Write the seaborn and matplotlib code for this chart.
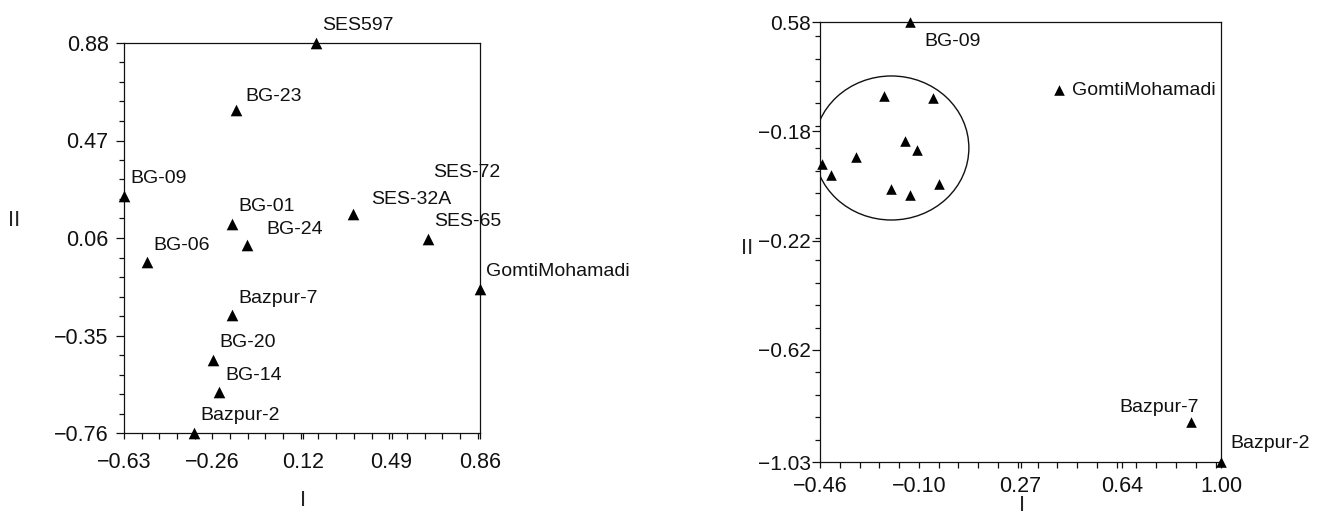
import numpy as np
import pandas as pd
import matplotlib.pyplot as plt
import matplotlib
from matplotlib.patches import Ellipse
from matplotlib.ticker import AutoMinorLocator
import seaborn as sns

# ---- left plot : all accessions
left_names = ["SES597", "BG-23", "BG-09", "BG-01", "BG-24", "SES-32A", "SES-65",
              "BG-06", "GomtiMohamadi", "Bazpur-7", "BG-20", "BG-14", "Bazpur-2"]
left_I = [0.174, -0.161, -0.63, -0.178, -0.115, 0.328, 0.642,
          -0.534, 0.86, -0.178, -0.258, -0.232, -0.337]
left_II = [0.88, 0.598, 0.237, 0.119, 0.031, 0.161, 0.056,
           -0.041, -0.154, -0.264, -0.453, -0.588, -0.76]
# SES-72 has a label but its marker is not visible
ses72_I, ses72_II = 0.638, 0.262

left_xticks = [-0.63, -0.26, 0.12, 0.49, 0.86]
left_yticks = [0.88, 0.47, 0.06, -0.35, -0.76]

# ---- right plot : second run
right_names = ["BG-09", "GomtiMohamadi", "Bazpur-7", "Bazpur-2"] + [""] * 10
right_I = [-0.132, 0.410, 0.891, 1.00,
           -0.226, -0.049, -0.149, -0.106, -0.330, -0.454, -0.421, -0.028, -0.200, -0.133]
right_II = [0.58, 0.331, -0.884, -1.03,
            0.310, 0.301, 0.145, 0.112, 0.085, 0.059, 0.020, -0.014, -0.032, -0.053]
right_xticks = [-0.46, -0.10, 0.27, 0.64, 1.00]
right_yticks = [0.58, 0.18, -0.22, -0.62, -1.03]
right_yticklabels = ["0.58", "\u22120.18", "\u22120.22", "\u22120.62", "\u22121.03"]

# cluster circle (right plot)
circle_center = (-0.200, 0.119)
circle_w, circle_h = 0.564, 0.527

sns.set_style("ticks")
plt.rcParams['font.family'] = ['Liberation Sans', 'DejaVu Sans']
plt.rcParams['axes.unicode_minus'] = True

df_left = pd.DataFrame({"I": left_I, "II": left_II, "name": left_names})
df_right = pd.DataFrame({"I": right_I, "II": right_II, "name": right_names})

fig = plt.figure(figsize=(13.23, 5.14), dpi=100)
ax1 = fig.add_axes([124/1323, 1-433/514, 356/1323, 390/514])
ax2 = fig.add_axes([820/1323, 1-462/514, 401/1323, 440/514])

sns.scatterplot(data=df_left, x="I", y="II", marker="^", s=70, color="black",
                linewidth=0, clip_on=False, zorder=5, ax=ax1)
sns.scatterplot(data=df_right, x="I", y="II", marker="^", s=58, color="black",
                linewidth=0, clip_on=False, zorder=5, ax=ax2)

def fmt(v):
    return ("%.2f" % v).replace("-", "\u2212")

# labels of left plot (offsets in pixels)
left_off = {"BG-23": (9, 14), "BG-24": (19, 15), "SES-32A": (18, 14)}
for n, x, y in zip(left_names, left_I, left_II):
    dx, dy = left_off.get(n, (6, 17))
    ax1.annotate(n, (x, y), xytext=(dx, dy), textcoords="offset pixels",
                 ha="left", va="center", fontsize=14, color="#111111",
                 annotation_clip=False, zorder=6)
ax1.annotate("SES-72", (ses72_I, ses72_II), xytext=(6, 17), textcoords="offset pixels",
             ha="left", va="center", fontsize=14, color="#111111",
             annotation_clip=False, zorder=6)

right_off = {"BG-09": (14, -20, "left"), "GomtiMohamadi": (13, 0, "left"),
             "Bazpur-7": (8, 15, "right"), "Bazpur-2": (9, 18, "left")}
for n, x, y in zip(right_names, right_I, right_II):
    if n == "":
        continue
    dx, dy, ha = right_off[n]
    ax2.annotate(n, (x, y), xytext=(dx, dy), textcoords="offset pixels",
                 ha=ha, va="center", fontsize=14, color="#111111",
                 annotation_clip=False, zorder=6)

ax2.add_patch(Ellipse(circle_center, circle_w, circle_h, fill=False,
                      edgecolor="#111111", linewidth=1.0))

# axes styling
for ax, xt, yt, ytl in [(ax1, left_xticks, left_yticks, [fmt(v) for v in left_yticks]),
                        (ax2, right_xticks, right_yticks, right_yticklabels)]:
    ax.set_xlim(xt[0], xt[-1])
    ax.set_ylim(min(yt), max(yt))
    ax.set_xticks(xt)
    ax.set_xticklabels([fmt(v) for v in xt])
    ax.set_yticks(yt)
    ax.set_yticklabels(ytl)
    ax.xaxis.set_minor_locator(AutoMinorLocator(5))
    ax.yaxis.set_minor_locator(AutoMinorLocator(5))
    for sp in ax.spines.values():
        sp.set_visible(True)
        sp.set_linewidth(0.9)
        sp.set_color("#111111")
    ax.tick_params(axis="both", which="both", direction="out", color="#111111",
                   width=0.9, labelsize=15.5, labelcolor="#111111")
    ax.tick_params(axis="x", which="both", length=4)
    ax.tick_params(axis="y", which="major", length=6)
    ax.tick_params(axis="y", which="minor", length=3.5)
    ax.set_xlabel("I", fontsize=16)
    ax.set_ylabel("II", fontsize=16, rotation=0)
    ax.xaxis.label.set_va("center")
    ax.yaxis.label.set_va("center")
    ax.yaxis.label.set_ha("center")

ax1.tick_params(axis="x", pad=10)
ax1.tick_params(axis="y", pad=5)
ax2.tick_params(axis="x", pad=6)
ax2.tick_params(axis="y", pad=0.5, labelsize=15)

ax1.xaxis.set_label_coords(0.503, -0.172)
ax1.yaxis.set_label_coords(-0.309, 0.546)
ax2.xaxis.set_label_coords(0.504, -0.098)
ax2.yaxis.set_label_coords(-0.182, 0.486)

fig.savefig("out.png", dpi=100)
